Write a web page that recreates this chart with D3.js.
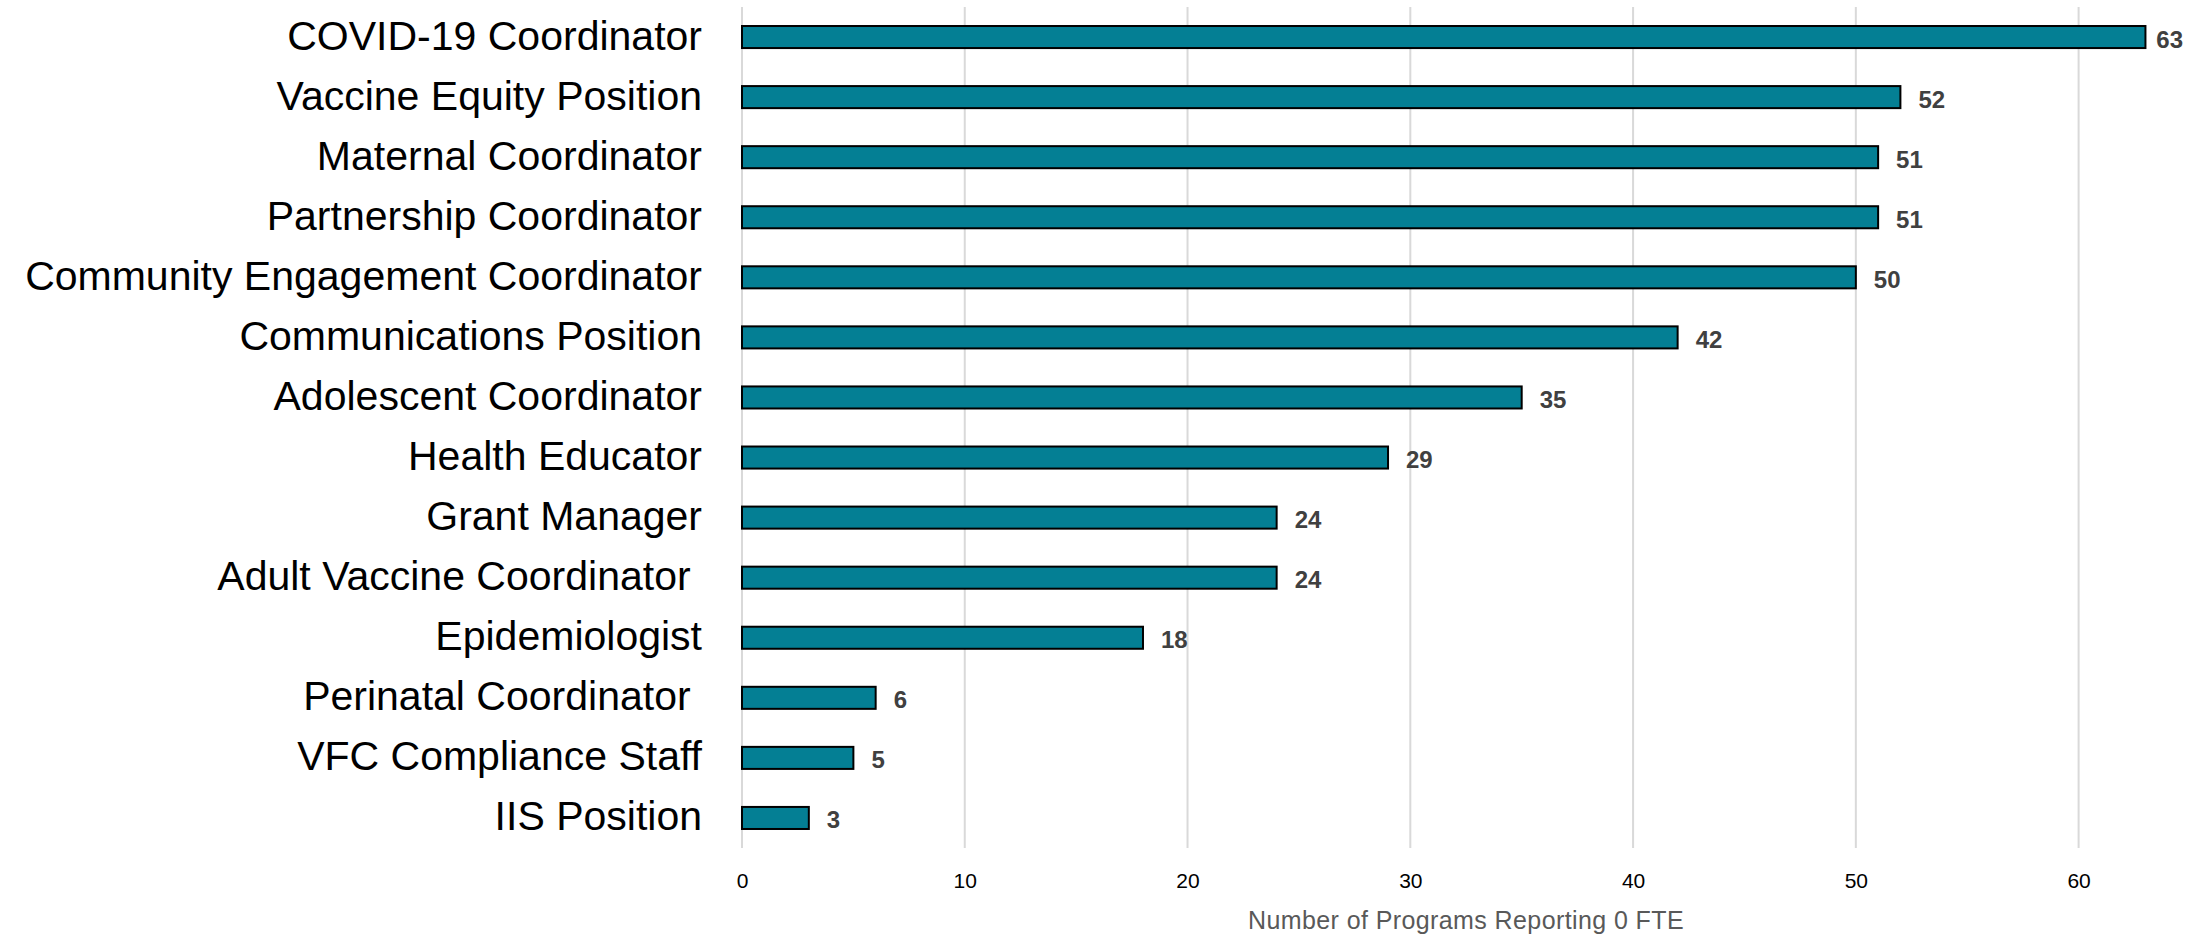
<!DOCTYPE html>
<html>
<head>
<meta charset="utf-8">
<script src="https://cdn.jsdelivr.net/npm/d3@7"></script>
<style>
  html, body { margin: 0; padding: 0; background: #ffffff; }
  svg { display: block; }
  text { white-space: pre; }
</style>
</head>
<body>
<svg id="chart" width="2211" height="934"></svg>
<script>
const categories = [
  "COVID-19 Coordinator",
  "Vaccine Equity Position",
  "Maternal Coordinator",
  "Partnership Coordinator",
  "Community Engagement Coordinator",
  "Communications Position",
  "Adolescent Coordinator",
  "Health Educator",
  "Grant Manager",
  "Adult Vaccine Coordinator ",
  "Epidemiologist",
  "Perinatal Coordinator ",
  "VFC Compliance Staff",
  "IIS Position"
];
const values = [63, 52, 51, 51, 50, 42, 35, 29, 24, 24, 18, 6, 5, 3];
const xTicks = [0, 10, 20, 30, 40, 50, 60];
const xAxisTitle = "Number of Programs Reporting 0 FTE";

const svg = d3.select("#chart");
const plot = { left: 742, right: 2190, top: 7, bottom: 848 };

const x = d3.scaleLinear().domain([0, 65]).range([plot.left, plot.right]);
const y = d3.scaleBand().domain(categories).range([plot.top, plot.bottom])
  .paddingInner(0.633).paddingOuter(0.3165);

// gridlines
svg.append("g").selectAll("line").data(xTicks).join("line")
  .attr("x1", d => x(d)).attr("x2", d => x(d))
  .attr("y1", plot.top).attr("y2", plot.bottom)
  .attr("stroke", "#d9d9d9").attr("stroke-width", 2);

// x axis tick labels
const xAxis = d3.axisBottom(x).tickValues(xTicks).tickSize(0).tickPadding(0);
const gx = svg.append("g").attr("transform", `translate(0,${plot.bottom})`).call(xAxis);
gx.select(".domain").remove();
gx.selectAll("text")
  .attr("y", 40).attr("dy", null)
  .attr("font-family", "Liberation Sans, Arial, sans-serif")
  .attr("font-size", 21).attr("fill", "#000000");

// y axis labels
const yAxis = d3.axisLeft(y).tickSize(0).tickPadding(0);
const gy = svg.append("g").attr("transform", `translate(${plot.left - 40},0)`).call(yAxis);
gy.select(".domain").remove();
gy.selectAll("text")
  .attr("x", 0).attr("dy", null)
  .attr("y", 12.5)
  .attr("text-anchor", "end")
  .attr("font-family", "Liberation Sans, Arial, sans-serif")
  .attr("font-size", 41).attr("fill", "#000000");

// bars
svg.append("g").selectAll("rect").data(values).join("rect")
  .attr("x", x(0))
  .attr("y", (d, i) => y(categories[i]))
  .attr("width", d => x(d) - x(0))
  .attr("height", y.bandwidth())
  .attr("fill", "#047f94")
  .attr("stroke", "#000000").attr("stroke-width", 2);

// value labels
const labelLimit = 2183;
svg.append("g").selectAll("text").data(values).join("text")
  .attr("y", (d, i) => y(categories[i]) + y.bandwidth() / 2 + 10.5)
  .attr("font-family", "Liberation Sans, Arial, sans-serif")
  .attr("font-weight", "bold")
  .attr("font-size", 24).attr("fill", "#404040")
  .text(d => d)
  .attr("x", function(d) {
    const w = this.getComputedTextLength();
    return Math.min(x(d) + 18, labelLimit - w);
  });

// axis title
svg.append("text")
  .attr("x", (plot.left + plot.right) / 2)
  .attr("y", 929)
  .attr("text-anchor", "middle")
  .attr("font-family", "Liberation Sans, Arial, sans-serif")
  .attr("font-size", 25).attr("letter-spacing", 0.4)
  .attr("fill", "#595959")
  .text(xAxisTitle);
</script>
</body>
</html>
